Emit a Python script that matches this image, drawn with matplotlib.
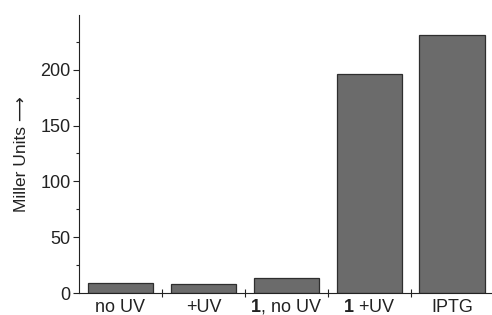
import numpy as np
import matplotlib
matplotlib.use('Agg')
import matplotlib.pyplot as plt
from matplotlib.ticker import MultipleLocator

plt.rcParams['font.family'] = ['Liberation Sans', 'DejaVu Sans']
plt.rcParams['mathtext.fontset'] = 'custom'
plt.rcParams['mathtext.bf'] = 'Liberation Sans:bold'
plt.rcParams['mathtext.rm'] = 'Liberation Sans'

# data
categories = ['no UV', '+UV', r'$\mathbf{1}$, no UV', r'$\mathbf{1}$ +UV', 'IPTG']
miller_units = [9.2, 8.3, 13.7, 195.8, 230.8]

fig = plt.figure(figsize=(4.92, 3.15), dpi=100)
ax = fig.add_axes([0.1606, 0.0698, 0.8394, 0.8825])

x = np.arange(len(categories))
ax.bar(x, miller_units, width=0.79, color='#6b6b6b', edgecolor='#2e2e2e', linewidth=0.9)

ax.set_xlim(-0.5, 4.48)
ax.set_ylim(0, 249)
ax.spines['top'].set_visible(False)
ax.spines['right'].set_visible(False)
ax.spines['left'].set_color('#222222')
ax.spines['bottom'].set_color('#222222')

ax.yaxis.set_major_locator(MultipleLocator(50))
ax.yaxis.set_minor_locator(MultipleLocator(25))
ax.tick_params(axis='y', which='major', direction='out', length=4, width=0.8, labelsize=13, pad=2, colors='#222222')
ax.tick_params(axis='y', which='minor', direction='out', length=2.5, width=0.8, colors='#222222')

# category labels centred on bars, ticks between bars
ax.set_xticks(x)
ax.set_xticklabels(categories)
ax.tick_params(axis='x', which='major', length=0, labelsize=13, pad=13.5, colors='#222222')
for lbl in ax.get_xticklabels():
    lbl.set_verticalalignment('baseline')
ax.set_xticks(np.arange(0.5, 4.5, 1.0), minor=True)
ax.tick_params(axis='x', which='minor', direction='inout', length=6, width=0.8, colors='#222222')

ax.set_ylabel('Miller Units \u27f6', fontsize=12.5, color='#222222', labelpad=8)

plt.savefig('out.png', dpi=100)
